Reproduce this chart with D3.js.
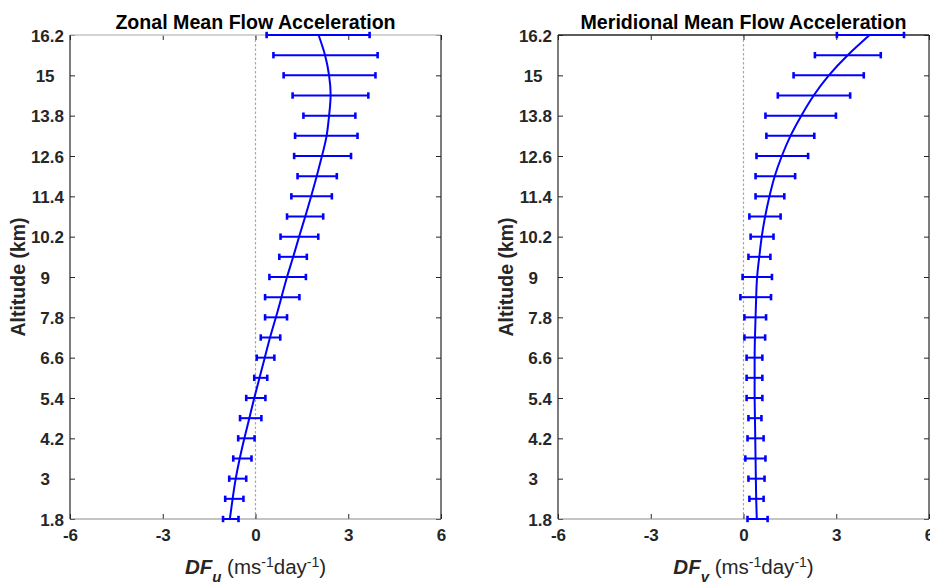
<!DOCTYPE html>
<html>
<head>
<meta charset="utf-8">
<script src="https://cdn.jsdelivr.net/npm/d3@7"></script>
<style>
  html, body { margin: 0; padding: 0; background: #fff; }
  svg { display: block; font-family: "Liberation Sans", Arial, Helvetica, sans-serif; }
  .tick text { white-space: pre; }
</style>
</head>
<body>
<svg id="chart" width="930" height="582"></svg>
<script>
// ---------------- data ----------------
const altitudes = [1.8, 2.4, 3.0, 3.6, 4.2, 4.8, 5.4, 6.0, 6.6, 7.2, 7.8, 8.4, 9.0,
                   9.6, 10.2, 10.8, 11.4, 12.0, 12.6, 13.2, 13.8, 14.4, 15.0, 15.6, 16.2];

// Zonal mean flow acceleration DF_u
const zonalFit  = [-0.83, -0.74, -0.64, -0.51, -0.36, -0.20, -0.04, 0.13, 0.30, 0.47, 0.66, 0.84, 1.02,
                   1.22, 1.41, 1.61, 1.80, 1.98, 2.15, 2.30, 2.38, 2.43, 2.38, 2.25, 2.04];
const zonalLow  = [-1.05, -0.98, -0.85, -0.72, -0.56, -0.50, -0.30, -0.04, 0.04, 0.17, 0.31, 0.31, 0.45,
                   0.77, 0.81, 1.02, 1.16, 1.36, 1.25, 1.28, 1.55, 1.20, 0.91, 0.58, 0.36];
const zonalHigh = [-0.55, -0.39, -0.30, -0.13, -0.03, 0.19, 0.32, 0.38, 0.61, 0.80, 1.02, 1.42, 1.63,
                   1.66, 2.03, 2.19, 2.47, 2.63, 3.09, 3.30, 3.23, 3.65, 3.88, 3.95, 3.69];

// Meridional mean flow acceleration DF_v
const meridFit  = [0.43, 0.41, 0.40, 0.39, 0.38, 0.37, 0.36, 0.36, 0.36, 0.37, 0.39, 0.41, 0.44,
                   0.51, 0.59, 0.70, 0.84, 1.01, 1.24, 1.52, 1.87, 2.27, 2.76, 3.37, 4.08];
const meridLow  = [0.13, 0.19, 0.16, 0.06, 0.13, 0.16, 0.10, 0.10, 0.10, 0.03, 0.03, -0.10, -0.03,
                   0.16, 0.23, 0.19, 0.39, 0.39, 0.42, 0.74, 0.71, 1.11, 1.62, 2.31, 3.02];
const meridHigh = [0.78, 0.65, 0.68, 0.71, 0.65, 0.58, 0.61, 0.61, 0.61, 0.70, 0.73, 0.89, 0.92,
                   0.87, 0.97, 1.20, 1.32, 1.67, 2.09, 2.29, 2.99, 3.45, 3.89, 4.44, 5.19];

const xTicks = [-6, -3, 0, 3, 6];
const xTickLabels = ["-6", "-3", "0", "3", "6"];
const yTicks = [1.8, 3, 4.2, 5.4, 6.6, 7.8, 9, 10.2, 11.4, 12.6, 13.8, 15, 16.2];
const yTickLabels = ["1.8", "3   ", "4.2", "5.4", "6.6", "7.8", "9   ", "10.2", "11.4", "12.6", "13.8", "15  ", "16.2"];

const titles = ["Zonal Mean Flow Acceleration", "Meridional Mean Flow Acceleration"];
const subscripts = ["u", "v"];

// ---------------- drawing ----------------
const svg = d3.select("#chart");
const AX = "#262626";
const BLUE = "#0000ff";
const plotTop = 35, plotBottom = 519;

const panels = [
  { left: 70,  right: 441, fit: zonalFit, low: zonalLow, high: zonalHigh, topColor: "#c4c4c4" },
  { left: 558, right: 929, fit: meridFit, low: meridLow, high: meridHigh, topColor: AX }
];

const y = d3.scaleLinear().domain([1.8, 16.2]).range([plotBottom, plotTop]);

panels.forEach((p, pi) => {
  const x = d3.scaleLinear().domain([-6, 6]).range([p.left, p.right]);
  const g = svg.append("g");

  // zero dashed line
  g.append("line")
    .attr("x1", x(0)).attr("x2", x(0)).attr("y1", plotTop).attr("y2", plotBottom)
    .attr("stroke", "#a8a8a8").attr("stroke-width", 1.2).attr("stroke-dasharray", "2.5,2");

  // axes (ticks inward)
  const axB = g.append("g").attr("transform", `translate(0,${plotBottom})`)
    .call(d3.axisBottom(x).tickValues(xTicks).tickFormat((d, i) => xTickLabels[i])
      .tickSizeInner(-5).tickSizeOuter(0).tickPadding(10));
  const axT = g.append("g").attr("transform", `translate(0,${plotTop})`)
    .call(d3.axisTop(x).tickValues(xTicks).tickFormat("").tickSizeInner(-5).tickSizeOuter(0));
  const axL = g.append("g").attr("transform", `translate(${p.left},0)`)
    .call(d3.axisLeft(y).tickValues(yTicks).tickFormat((d, i) => yTickLabels[i])
      .tickSizeInner(-5).tickSizeOuter(0).tickPadding(6));
  const axR = g.append("g").attr("transform", `translate(${p.right},0)`)
    .call(d3.axisRight(y).tickValues(yTicks).tickFormat("").tickSizeInner(-5).tickSizeOuter(0));

  [axB, axT, axL, axR].forEach(a => {
    a.select(".domain").remove();
    a.selectAll(".tick line").attr("stroke", AX).attr("stroke-width", 1);
    a.selectAll(".tick text").attr("fill", AX)
      .style("font-size", "17px").style("font-weight", "bold")
      .style("font-family", "'Liberation Sans', Arial, sans-serif");
  });
  axB.selectAll(".tick text").attr("dy", "0.71em");
  axL.selectAll(".tick text").attr("dy", "0.36em");

  // box
  g.append("line").attr("x1", p.left).attr("x2", p.right).attr("y1", plotTop).attr("y2", plotTop)
    .attr("stroke", p.topColor).attr("stroke-width", 1.5);
  g.append("line").attr("x1", p.left).attr("x2", p.right).attr("y1", plotBottom).attr("y2", plotBottom)
    .attr("stroke", "#8a8a8a").attr("stroke-width", 1.2);
  g.append("line").attr("x1", p.left).attr("x2", p.left).attr("y1", plotTop).attr("y2", plotBottom)
    .attr("stroke", AX).attr("stroke-width", 1.2);
  g.append("line").attr("x1", p.right).attr("x2", p.right).attr("y1", plotTop).attr("y2", plotBottom)
    .attr("stroke", AX).attr("stroke-width", 1.2);

  // error bars
  const eb = g.append("g").attr("stroke", BLUE);
  altitudes.forEach((a, i) => {
    eb.append("line")
      .attr("x1", x(p.low[i])).attr("x2", x(p.high[i]))
      .attr("y1", y(a)).attr("y2", y(a)).attr("stroke-width", 2);
    [p.low[i], p.high[i]].forEach(v => {
      eb.append("line")
        .attr("x1", x(v)).attr("x2", x(v))
        .attr("y1", y(a) - 3.2).attr("y2", y(a) + 3.2).attr("stroke-width", 2.6);
    });
  });

  // fitted curve
  const line = d3.line().x((d, i) => x(p.fit[i])).y(d => y(d)).curve(d3.curveNatural);
  g.append("path").datum(altitudes)
    .attr("d", line).attr("fill", "none").attr("stroke", BLUE).attr("stroke-width", 2);

  // title
  const cx = (p.left + p.right) / 2;
  g.append("text").attr("x", cx).attr("y", 29).attr("text-anchor", "middle")
    .style("font-size", "19.6px").style("font-weight", "bold").attr("fill", "#000")
    .text(titles[pi]);

  // y label
  g.append("text")
    .attr("transform", `translate(${p.left - 45},277) rotate(-90)`)
    .attr("text-anchor", "middle")
    .style("font-size", "19.5px").style("font-weight", "bold").attr("fill", AX)
    .text("Altitude (km)");

  // x label
  const xl = g.append("text").attr("x", cx).attr("y", 574).attr("text-anchor", "middle")
    .attr("fill", AX).style("font-size", "20.5px");
  xl.append("tspan").style("font-weight", "bold").style("font-style", "italic").text("DF");
  xl.append("tspan").style("font-weight", "bold").style("font-style", "italic")
    .style("font-size", "15px").attr("dy", 8).text(subscripts[pi]);
  xl.append("tspan").attr("dy", -8).text(" (ms");
  xl.append("tspan").style("font-size", "14px").attr("dy", -7).text("-1");
  xl.append("tspan").attr("dy", 7).text("day");
  xl.append("tspan").style("font-size", "14px").attr("dy", -7).text("-1");
  xl.append("tspan").attr("dy", 7).text(")");
});
</script>
</body>
</html>
